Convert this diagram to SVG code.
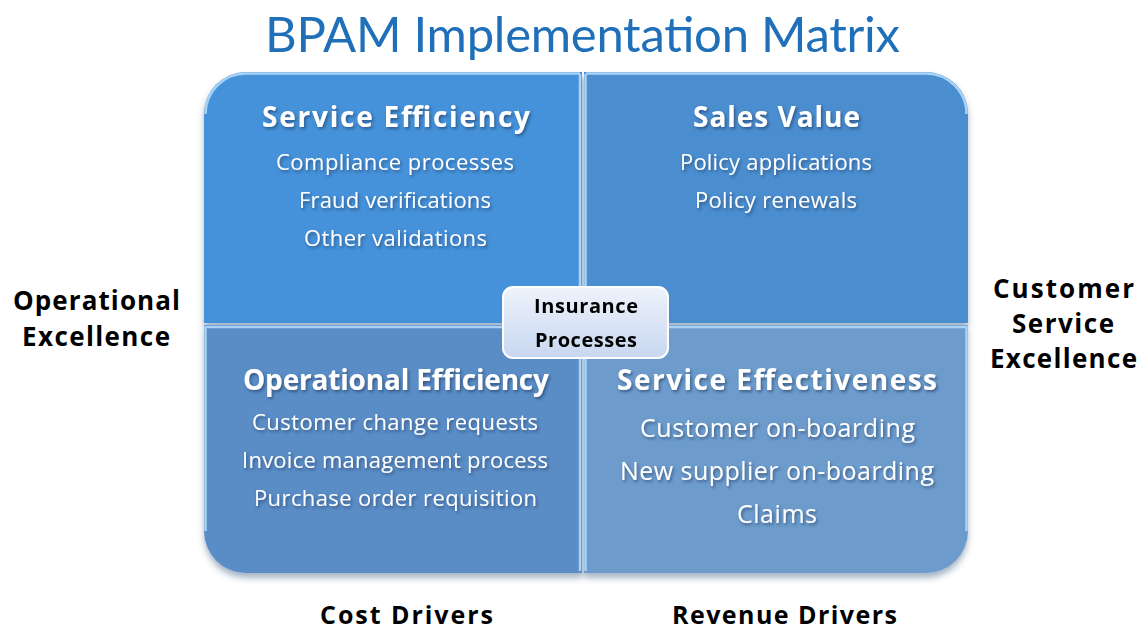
<svg xmlns="http://www.w3.org/2000/svg" width="1143" height="630" viewBox="0 0 1143 630">
  <defs>
    <style>
      .title { font-family: Lato, "Open Sans", sans-serif; font-size: 49px; fill: #1f70b8; text-anchor: middle; }
      .axis { font-family: "Open Sans", Lato, sans-serif; font-size: 26px; font-weight: bold; fill: #000; text-anchor: middle; }
      .axis-low { font-size: 25px; }
      .qhead { font-family: "Open Sans", Lato, sans-serif; font-size: 28px; font-weight: bold; fill: #fff; text-anchor: middle; filter: url(#txtShadow); }
      .qitem { font-family: "Open Sans", Lato, sans-serif; font-size: 22px; fill: #fff; text-anchor: middle; filter: url(#txtShadow); }
      .qitem2 { font-family: "Open Sans", Lato, sans-serif; font-size: 25px; fill: #fff; text-anchor: middle; filter: url(#txtShadow); }
      .center { font-family: "Open Sans", Lato, sans-serif; font-size: 20px; font-weight: bold; fill: #000; text-anchor: middle; }
      .bevel { fill: none; stroke: #a9d2f5; stroke-width: 2.5; }
    </style>
    <filter id="txtShadow" x="-10%" y="-30%" width="120%" height="160%">
      <feDropShadow dx="1.5" dy="2" stdDeviation="1.5" flood-color="#1a3558" flood-opacity="0.6"/>
    </filter>
    <filter id="boxShadow" x="-5%" y="-5%" width="110%" height="115%">
      <feDropShadow dx="0" dy="5" stdDeviation="3" flood-color="#3a5a80" flood-opacity="0.45"/>
    </filter>
    <linearGradient id="centerFill" x1="0" y1="0" x2="0" y2="1">
      <stop offset="0" stop-color="#eef3fc"/>
      <stop offset="1" stop-color="#c8d7f0"/>
    </linearGradient>
  </defs>

  <rect width="1143" height="630" fill="#ffffff"/>

  <text class="title" x="582.5" y="52" textLength="635">BPAM Implementation Matrix</text>

  <!-- axis labels -->
  <g id="axis-left">
    <text class="axis" x="96.5" y="310" textLength="167">Operational</text>
    <text class="axis" x="96" y="346" textLength="148">Excellence</text>
  </g>
  <g id="axis-right">
    <text class="axis" x="1063.5" y="298" textLength="141">Customer</text>
    <text class="axis" x="1063" y="333" textLength="102">Service</text>
    <text class="axis" x="1063.5" y="368" textLength="147">Excellence</text>
  </g>
  <g id="axis-bottom">
    <text class="axis axis-low" x="406.5" y="624" textLength="173">Cost Drivers</text>
    <text class="axis axis-low" x="784.5" y="624" textLength="225">Revenue Drivers</text>
  </g>

  <!-- matrix quadrants -->
  <g filter="url(#boxShadow)">
    <g id="q-service-efficiency">
      <path d="M204,114 A42,42 0 0 1 246,72 L582,72 L582,323 L204,323 Z" fill="#4592da"/>
      <path class="bevel" d="M205.5,114 A40.5,40.5 0 0 1 246,73.5 L580,73.5"/>
      <path class="bevel" d="M580,74 L580,321" stroke="#8cc0ec"/>
      <text class="qhead" x="396" y="127" textLength="268">Service Efficiency</text>
      <text class="qitem" x="395" y="170" textLength="238">Compliance processes</text>
      <text class="qitem" x="395" y="208" textLength="192">Fraud verifications</text>
      <text class="qitem" x="395.5" y="246" textLength="183">Other validations</text>
    </g>
    <g id="q-sales-value">
      <path d="M584,72 L926,72 A42,42 0 0 1 968,114 L968,323 L584,323 Z" fill="#4b8ed0"/>
      <path class="bevel" d="M585.5,74 L585.5,322 M586,73.5 L926,73.5 A40.5,40.5 0 0 1 966.5,114"/>
      <text class="qhead" x="776.5" y="127" textLength="167">Sales Value</text>
      <text class="qitem" x="776" y="170" textLength="192">Policy applications</text>
      <text class="qitem" x="776" y="208" textLength="162">Policy renewals</text>
    </g>
    <g id="q-operational-efficiency">
      <path d="M204,325 L582,325 L582,573 L246,573 A42,42 0 0 1 204,531 Z" fill="#5a8dc6"/>
      <path class="bevel" d="M205.5,531 L205.5,327 L580,327 L580,571"/>
      <text class="qhead" x="396" y="390" textLength="306">Operational Efficiency</text>
      <text class="qitem" x="395" y="430" textLength="286">Customer change requests</text>
      <text class="qitem" x="395" y="468" textLength="306">Invoice management process</text>
      <text class="qitem" x="395.5" y="506" textLength="283">Purchase order requisition</text>
    </g>
    <g id="q-service-effectiveness">
      <path d="M584,325 L968,325 L968,531 A42,42 0 0 1 926,573 L584,573 Z" fill="#6d9ccc"/>
      <path class="bevel" d="M585.5,571 L585.5,327 L966.5,327 L966.5,531"/>
      <text class="qhead" x="777" y="390" textLength="320">Service Effectiveness</text>
      <text class="qitem2" x="777.5" y="437" textLength="275">Customer on-boarding</text>
      <text class="qitem2" x="777" y="480" textLength="314">New supplier on-boarding</text>
      <text class="qitem2" x="777" y="523" textLength="80">Claims</text>
    </g>
  </g>

  <!-- centre label -->
  <g id="center-insurance-processes">
    <rect x="503" y="287" width="165" height="71" rx="10" fill="url(#centerFill)" stroke="#ffffff" stroke-width="2"/>
    <text class="center" x="586" y="313" textLength="104">Insurance</text>
    <text class="center" x="586" y="347" textLength="102">Processes</text>
  </g>
</svg>
